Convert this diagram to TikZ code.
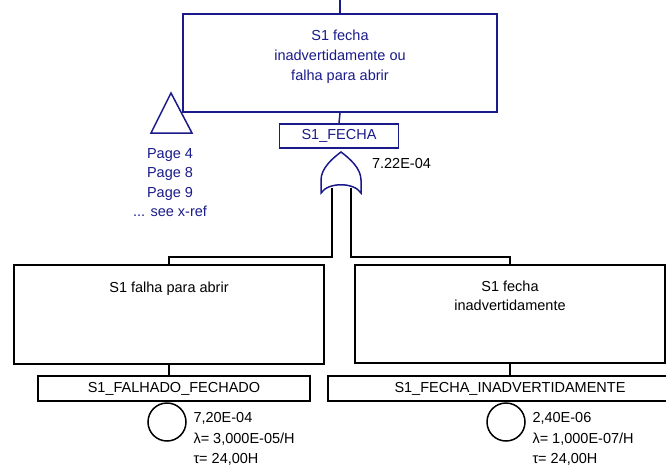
\documentclass[tikz,border=0pt]{standalone}
\usepackage{fontspec}
\setmainfont{Liberation Sans}
\usepackage{xcolor}
\usetikzlibrary{positioning, calc}
\definecolor{navy}{RGB}{26,26,138}
\tikzset{
    gatebox/.style={draw, rectangle, inner sep=0pt},
    idbox/.style={draw, rectangle, inner sep=0pt, minimum height=25pt},
    evcircle/.style={draw, circle, inner sep=0pt, minimum size=38pt},
    probtxt/.style={anchor=north west, align=left, inner sep=0pt,
        font=\fontsize{14.5}{20.5}\selectfont},
}

\begin{document}
\begin{tikzpicture}[x=1pt, y=-1pt, line width=1.5pt,
    font=\fontsize{14.5}{20}\selectfont]
    \useasboundingbox (0,0) rectangle (666,471);
    \clip (0,0) rectangle (666,471);

    % Porta superiore
    \coordinate (ingresso) at (340,0);
    \node[gatebox, navy, minimum width=314pt, minimum height=98pt] (top) at (340,63) {};
    \node[align=center, text=navy] (toptxt) at (340,56.5)
        {S1 fecha\\inadvertidamente ou\\falha para abrir};
    \node[idbox, navy, minimum width=119pt, minimum height=24pt] (topid) at (339,136) {S1\_FECHA};
    \draw[navy] (ingresso) -- (top.north);
    \draw[navy] (top.south) -- (topid.north);

    % Trasferimento
    \draw[navy] (171,93) -- (192,133) -- (151,133) -- cycle;
    \node[align=center, text=navy, font=\fontsize{14.5}{19.5}\selectfont] (pagine) at (170,182.5)
        {Page 4\\Page 8\\Page 9\\... see x-ref};

    % Porta OR
    \draw[navy] (321,193) -- (321,180) .. controls (321,168) and (333,158) .. (341,152)
        .. controls (349,158) and (361,168) .. (361,180) -- (361,193)
        .. controls (354,182) and (328,182) .. cycle;
    \node[anchor=west] (prob) at (368,164) {7.22E-04};
    \coordinate (legL) at (332,188);
    \coordinate (legR) at (351,188);
    \coordinate (kneeL) at (332,257);
    \coordinate (kneeR) at (351,257);

    % Ramo sinistro
    \node[gatebox, minimum width=310pt, minimum height=99pt] (lbox) at (169,314.5) {};
    \node[anchor=base] (ltxt) at (169,292.2) {S1 falha para abrir};
    \node[idbox, minimum width=272pt] (lid) at (174,388.5) {S1\_FALHADO\_FECHADO};
    \node[evcircle] (lev) at (167,422) {};
    \node[probtxt] (lprob) at ($(lev.east)+(6,-10)$) {7,20E-04\\λ= 3,000E-05/H\\τ= 24,00H};
    \draw (legL) -- (kneeL) -| (lbox.north);
    \draw (lbox.south) -- (lbox.south |- lid.north);

    % Ramo destro
    \node[gatebox, minimum width=310pt, minimum height=98pt] (rbox) at (510,314) {};
    \node[align=center, font=\fontsize{14.5}{18.5}\selectfont] (rtxt) at (510,296)
        {S1 fecha\\inadvertidamente};
    \node[idbox, minimum width=364pt] (rid) at (510,388.5) {S1\_FECHA\_INADVERTIDAMENTE};
    \node[evcircle] (rev) at (506,422) {};
    \node[probtxt] (rprob) at ($(rev.east)+(6,-10)$) {2,40E-06\\λ= 1,000E-07/H\\τ= 24,00H};
    \draw (legR) -- (kneeR) -| (rbox.north);
    \draw (rbox.south) -- (rbox.south |- rid.north);
\end{tikzpicture}
\end{document}
